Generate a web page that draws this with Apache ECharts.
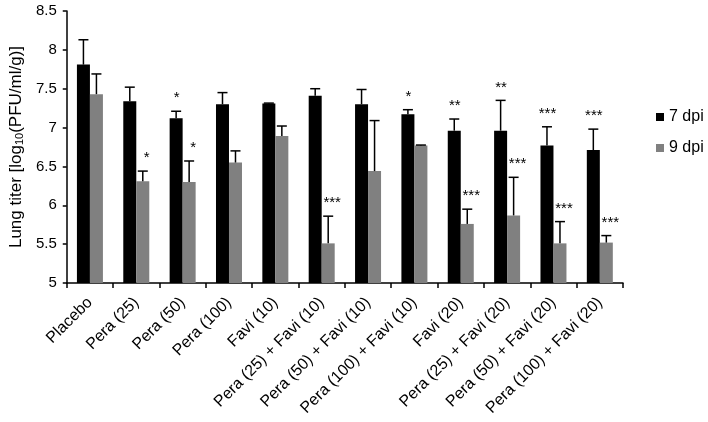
<!DOCTYPE html>
<html>
<head>
<meta charset="utf-8">
<script src="https://cdn.jsdelivr.net/npm/echarts@6/dist/echarts.min.js"></script>
<style>html,body{margin:0;padding:0;background:#fff}#c{width:708px;height:422px}</style>
</head>
<body>
<div id="c"></div>
<script>
var categories = ['Placebo', 'Pera (25)', 'Pera (50)', 'Pera (100)', 'Favi (10)', 'Pera (25) + Favi (10)', 'Pera (50) + Favi (10)', 'Pera (100) + Favi (10)', 'Favi (20)', 'Pera (25) + Favi (20)', 'Pera (50) + Favi (20)', 'Pera (100) + Favi (20)'];
var dpi7 = [7.81, 7.34, 7.12, 7.30, 7.31, 7.41, 7.30, 7.17, 6.96, 6.96, 6.77, 6.71];
var dpi7Err = [0.32, 0.18, 0.09, 0.15, 0.005, 0.09, 0.19, 0.06, 0.15, 0.39, 0.24, 0.27];
var dpi7Stars = ['', '', '*', '', '', '', '', '*', '**', '**', '***', '***'];
var dpi9 = [7.43, 6.31, 6.30, 6.55, 6.89, 5.51, 6.44, 6.77, 5.76, 5.87, 5.51, 5.52];
var dpi9Err = [0.26, 0.13, 0.27, 0.15, 0.13, 0.35, 0.65, 0.005, 0.19, 0.49, 0.28, 0.09];
var dpi9Stars = ['', '*', '*', '', '', '***', '', '', '***', '***', '***', '***'];
var yTicks = [5, 5.5, 6, 6.5, 7, 7.5, 8, 8.5];

var FONT = 'Liberation Sans, Arial, sans-serif';
var BAR_W = 13;
var errStars = { '-1': dpi7Stars, '1': dpi9Stars };

function errData(vals, errs) {
  return vals.map(function (v, i) { return [i, v, errs[i]]; });
}
function makeRender(side) {
  return function (params, api) {
    var i = api.value(0), v = api.value(1), e = api.value(2);
    var star = errStars[side][params.dataIndex];
    var p0 = api.coord([i, v]);
    var p1 = api.coord([i, v + e]);
    var x = p0[0] + side * BAR_W / 2;
    var children = [
      { type: 'line', shape: { x1: x, y1: p0[1], x2: x, y2: p1[1] }, style: { stroke: '#000', lineWidth: 1.5 } },
      { type: 'line', shape: { x1: x - 5, y1: p1[1], x2: x + 5, y2: p1[1] }, style: { stroke: '#000', lineWidth: 1.5 } }
    ];
    if (star) {
      children.push({ type: 'text', style: { x: x + (side > 0 ? 4 : 0.5), y: p1[1] - 13, text: star, fill: '#000', font: '15px ' + FONT, textAlign: 'center', textVerticalAlign: 'middle' } });
    }
    return { type: 'group', children: children };
  };
}

var chart = echarts.init(document.getElementById('c'), null, { renderer: 'canvas' });
chart.setOption({
  animation: false,
  backgroundColor: '#fff',
  textStyle: { fontFamily: FONT, color: '#000' },
  grid: { left: 62, right: 85, top: 11, bottom: 139, containLabel: false },
  legend: {
    data: ['7 dpi', '9 dpi'],
    orient: 'vertical',
    left: 656,
    top: 109,
    padding: 0,
    itemWidth: 8,
    itemHeight: 8,
    itemGap: 15,
    icon: 'rect',
    textStyle: { fontSize: 16, color: '#000', fontFamily: FONT }
  },
  xAxis: {
    type: 'category',
    data: categories,
    axisLine: { lineStyle: { color: '#000', width: 1.5 } },
    axisTick: { show: true, length: 5, lineStyle: { color: '#000', width: 1.5 } },
    axisLabel: { rotate: 45, interval: 0, fontSize: 16, color: '#000', margin: 17, fontFamily: FONT },
    splitLine: { show: false }
  },
  yAxis: {
    type: 'value',
    min: 5,
    max: 8.5,
    interval: 0.5,
    name: 'Lung titer [log{s|10}(PFU/ml/g)]',
    nameLocation: 'middle',
    nameGap: 38,
    nameTextStyle: {
      fontSize: 17, color: '#000', fontFamily: FONT,
      rich: { s: { fontSize: 11, verticalAlign: 'bottom', color: '#000', fontFamily: FONT } }
    },
    axisLine: { show: true, lineStyle: { color: '#000', width: 1.5 } },
    axisTick: { show: true, length: 4, lineStyle: { color: '#000', width: 1.5 } },
    axisLabel: {
      fontSize: 15, color: '#000', margin: 10, fontFamily: FONT,
      formatter: function (v) { return yTicks.indexOf(v) >= 0 ? String(v) : ''; }
    },
    splitLine: { show: false }
  },
  series: [
    { name: '7 dpi', type: 'bar', data: dpi7, barWidth: BAR_W, barGap: '0%', itemStyle: { color: '#000' } },
    { name: '9 dpi', type: 'bar', data: dpi9, barWidth: BAR_W, barGap: '0%', itemStyle: { color: '#808080' } },
    { name: 'err7', type: 'custom', renderItem: makeRender(-1), data: errData(dpi7, dpi7Err), z: 5, clip: false },
    { name: 'err9', type: 'custom', renderItem: makeRender(1), data: errData(dpi9, dpi9Err), z: 5, clip: false }
  ]
});
</script>
</body>
</html>
